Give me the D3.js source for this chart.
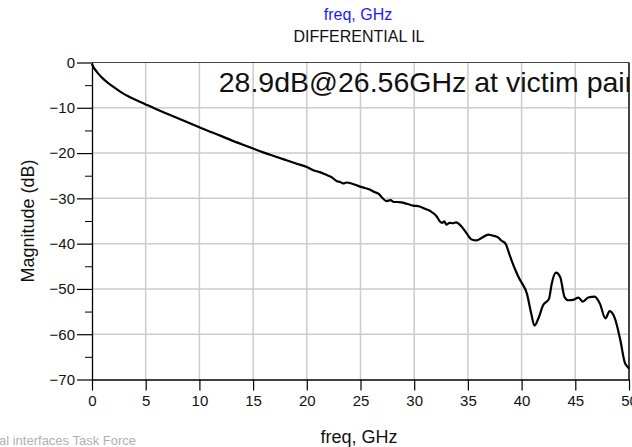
<!DOCTYPE html>
<html>
<head>
<meta charset="utf-8">
<script src="https://cdn.jsdelivr.net/npm/d3@7"></script>
<style>
	body { margin: 0; background: white; }
	svg { display: block; font-family: "Liberation Sans", Arial, sans-serif; }
</style>
</head>
<body>
<div id="chart"></div>
<script>

// insertion loss
let freq = [0, 0.1, 0.3, 0.56, 1.0, 1.49, 2.0, 2.73, 3.5, 4.2, 5.0, 6.0, 7.0, 8.0, 9.0, 10.0,
			11.0, 12.0, 13.0, 14.0, 15.0, 16.0, 17.0, 18.0, 19.0, 20.0, 20.6, 21.2, 21.7, 22.3,
			22.8, 23.1, 23.4, 23.7, 24.0, 24.5, 24.95, 25.4, 25.9, 26.3, 26.7, 27.0, 27.4, 27.8,
			28.1, 28.4, 28.8, 29.3, 29.9, 30.5, 31.0, 31.5, 32.1, 32.4, 32.6, 32.8, 33.0, 33.3,
			33.6, 33.9, 34.4, 34.9, 35.35, 35.8, 36.3, 36.9, 37.3, 37.8, 38.1, 38.5, 38.9, 39.4,
			39.85, 40.0, 40.5, 40.9, 41.2, 41.55, 42.0, 42.55, 42.8, 43.2, 43.6, 44.0, 44.35, 44.8,
			45.3, 45.7, 46.2, 46.8, 47.3, 47.8, 48.2, 48.7, 49.2, 49.6, 49.9, 50.0];
let magdB = [-0.3, -0.9, -1.6, -2.4, -3.5, -4.5, -5.4, -6.6, -7.6, -8.4, -9.25, -10.3, -11.3, -12.3, -13.3, -14.3,
			-15.3, -16.2, -17.2, -18.1, -19.0, -19.9, -20.7, -21.5, -22.3, -23.1, -23.8, -24.2, -24.7, -25.3,
			-26.2, -26.4, -26.7, -26.5, -26.6, -27.0, -27.4, -27.7, -28.1, -28.6, -29.0, -29.8, -30.6, -30.4,
			-30.8, -30.8, -30.9, -31.2, -31.6, -31.8, -32.3, -32.8, -34.0, -35.1, -35.4, -35.1, -35.8, -35.4,
			-35.5, -35.3, -36.2, -37.8, -39.1, -39.3, -38.7, -38.0, -38.2, -38.6, -39.3, -40.0, -42.6, -45.7,
			-48.0, -48.6, -51.1, -55.5, -58.1, -56.6, -53.6, -52.2, -48.9, -46.4, -47.4, -51.8, -52.5, -52.4,
			-51.9, -52.8, -51.9, -51.7, -53.3, -56.5, -54.9, -56.6, -61.4, -66.2, -67.3, -67.6];

let xTicks = [0, 5, 10, 15, 20, 25, 30, 35, 40, 45, 50];
let yTicks = [0, -10, -20, -30, -40, -50, -60, -70];
let yMinor = [-5, -15, -25, -35, -45, -55, -65];

let topTitle = "freq, GHz";
let chartTitle = "DIFFERENTIAL IL";
let annotation = "28.9dB@26.56GHz at victim pair";
let xLabel = "freq, GHz";
let yLabel = "Magnitude (dB)";
let footer = "al interfaces Task Force";

let width = 632;
let height = 447;
let margin = {top: 62.5, right: 3, bottom: 67.5, left: 92};
let width_ = width - margin.left - margin.right;
let height_ = height - margin.top - margin.bottom;

let x = d3.scaleLinear().domain([0,50]).range([0,width_]);
let y = d3.scaleLinear().domain([-70,0]).range([height_,0]);

let svg = d3.select("#chart").append("svg")
			.attr("width",width)
			.attr("height",height);

svg.append("defs").append("clipPath")
	.attr("id","plotclip")
	.append("rect")
	.attr("x",0).attr("y",0)
	.attr("width",width_).attr("height",height_);

let canvas = svg.append("g")
			.attr("transform","translate("+margin.left+","+margin.top+")");

// grid
canvas.append("g").selectAll("line.v")
	.data(xTicks.slice(1))
	.join("line")
	.attr("x1",d => x(d)).attr("x2",d => x(d))
	.attr("y1",0).attr("y2",height_)
	.attr("stroke","#cccccc")
	.attr("stroke-width",1.5);

canvas.append("g").selectAll("line.h")
	.data(yTicks.slice(1,-1))
	.join("line")
	.attr("x1",0).attr("x2",width_)
	.attr("y1",d => y(d)).attr("y2",d => y(d))
	.attr("stroke","#cccccc")
	.attr("stroke-width",1.5);

// frame top / right
canvas.append("line")
	.attr("x1",0).attr("x2",width_)
	.attr("y1",0).attr("y2",0)
	.attr("stroke","#444").attr("stroke-width",1.2);
canvas.append("line")
	.attr("x1",width_).attr("x2",width_)
	.attr("y1",0).attr("y2",height_)
	.attr("stroke","#111").attr("stroke-width",1.5);

// axes
let xAxis = canvas.append("g")
			.attr("transform","translate(0,"+height_+")")
			.call(d3.axisBottom(x).tickValues(xTicks).tickSize(11).tickPadding(5).tickSizeOuter(0));
let yAxis = canvas.append("g")
			.call(d3.axisLeft(y).tickValues(yTicks).tickSize(15).tickPadding(2).tickSizeOuter(0));
canvas.append("g")
	.call(d3.axisLeft(y).tickValues(yMinor).tickSize(7).tickFormat("").tickSizeOuter(0))
	.select(".domain").remove();

[xAxis,yAxis].forEach(function(a) {
	a.select(".domain").attr("stroke","#000").attr("stroke-width",1.3);
	a.selectAll(".tick line").attr("stroke","#000").attr("stroke-width",1.2);
	a.selectAll(".tick text")
		.attr("font-family","Liberation Sans, Arial, sans-serif")
		.attr("font-size",15)
		.attr("fill","#111");
});

// curve
let pts = freq.map((f,i) => [f,magdB[i]]);
let line = d3.line()
			.x(d => x(d[0]))
			.y(d => y(d[1]))
			.curve(d3.curveMonotoneX);

canvas.append("path")
	.datum(pts)
	.attr("d",line)
	.attr("fill","none")
	.attr("stroke","#000")
	.attr("stroke-width",2.2)
	.attr("stroke-linejoin","round");

// annotation inside plot
canvas.append("text")
	.attr("clip-path","url(#plotclip)")
	.attr("x",x(11.8))
	.attr("y",y(-6.5))
	.attr("font-size",28.5)
	.attr("fill","#111")
	.text(annotation);

// titles
svg.append("text")
	.attr("x",358).attr("y",20)
	.attr("text-anchor","middle")
	.attr("font-size",16)
	.attr("fill","#1a1aff")
	.text(topTitle);
svg.append("text")
	.attr("x",359).attr("y",42)
	.attr("text-anchor","middle")
	.attr("font-size",16)
	.attr("fill","#111")
	.text(chartTitle);

svg.append("text")
	.attr("x",359).attr("y",443)
	.attr("text-anchor","middle")
	.attr("font-size",18)
	.attr("fill","#111")
	.text(xLabel);

svg.append("text")
	.attr("transform","translate(34,"+(margin.top+height_/2)+") rotate(-90)")
	.attr("text-anchor","middle")
	.attr("font-size",18)
	.attr("fill","#111")
	.text(yLabel);

svg.append("text")
	.attr("x",-1).attr("y",445)
	.attr("font-size",13)
	.attr("fill","#b0b0b0")
	.text(footer);

</script>
</body>
</html>
